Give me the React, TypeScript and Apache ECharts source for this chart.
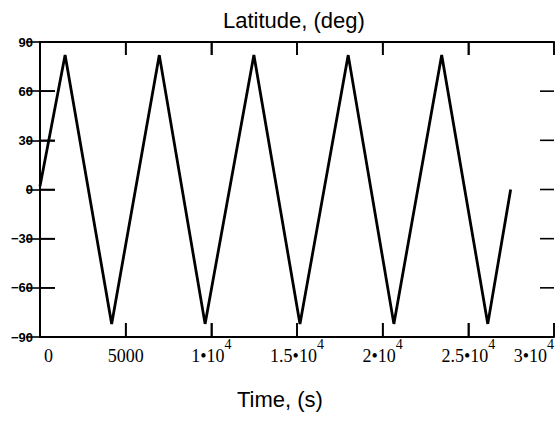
import React, { useEffect, useRef } from "react";
import * as echarts from "echarts";

const titleText = "Latitude, (deg)";
const xName = "Time, (s)";

const xTicks = [0, 5000, 10000, 15000, 20000, 25000, 30000];
const xTickLabels = ["0", "5000", "1•10^4", "1.5•10^4", "2•10^4", "2.5•10^4", "3•10^4"];
const yTicks = [-90, -60, -30, 0, 30, 60, 90];
const yTickLabels = ["−90", "−60", "−30", "0", "30", "60", "90"];

// turning points of the latitude trace (time s, latitude deg)
const timeS = [0, 1465, 4183, 6963, 9635, 12484, 15173, 17988, 20654, 23445, 26135, 27470];
const latDeg = [2, 82, -82, 82, -82, 82, -82, 82, -82, 82, -82, 0];

// tick mark styling per side: bottom, top, left, right
const TICK_DIR = [[0, -1], [0, 1], [1, 0], [-1, 0]];
const TICK_LEN = [14, 13, 15, 14];

export default function App() {
  const ref = useRef<HTMLDivElement>(null);
  useEffect(() => {
    if (!ref.current) return;
    const chart = echarts.init(ref.current, undefined, { renderer: "svg" });
    const data = timeS.map((t, i) => [t, latDeg[i]]);
    const xMin = xTicks[0];
    const xMax = xTicks[xTicks.length - 1];
    const yMin = yTicks[0];
    const yMax = yTicks[yTicks.length - 1];
    const tickData: number[][] = [];
    xTicks.forEach((v) => {
      tickData.push([v, yMin, 0]);
      tickData.push([v, yMax, 1]);
    });
    yTicks.forEach((v) => {
      tickData.push([xMin, v, 2]);
      tickData.push([xMax, v, 3]);
    });
    chart.setOption({
      animation: false,
      title: [
        {
          text: titleText,
          left: 223,
          top: 9,
          padding: 0,
          textStyle: { fontFamily: "Liberation Sans", fontSize: 22, fontWeight: "normal", color: "#000" },
        },
        {
          text: xName,
          left: 237,
          top: 388,
          padding: 0,
          textStyle: { fontFamily: "Liberation Sans", fontSize: 22, fontWeight: "normal", color: "#000" },
        },
      ],
      grid: { left: 40, top: 42, width: 520, height: 295 },
      xAxis: [
        {
          type: "value",
          min: xMin,
          max: xMax,
          interval: 5000,
          position: "bottom",
          axisLine: { show: true, onZero: false, lineStyle: { color: "#000", width: 2 } },
          axisTick: { show: true, inside: true, length: 14, lineStyle: { color: "#000", width: 1.6 } },
          splitLine: { show: false },
          axisLabel: {
            show: true,
            margin: 0,
            alignMinLabel: "left",
            alignMaxLabel: "right",
            formatter: (v: number) => {
              const i = xTicks.indexOf(v);
              const s = i >= 0 ? xTickLabels[i] : "";
              const parts = s.split("^");
              if (i === 0) return `{z|${s}}`;
              return parts.length > 1 ? `{b|${parts[0]}}{s|${parts[1]}}` : `{b|${s}}`;
            },
            rich: {
              b: { fontFamily: "Liberation Serif", fontSize: 18, color: "#000", lineHeight: 28, verticalAlign: "bottom" },
              z: { fontFamily: "Liberation Serif", fontSize: 18, color: "#000", lineHeight: 28, verticalAlign: "bottom", padding: [0, 0, 0, 4] },
              s: { fontFamily: "Liberation Serif", fontSize: 14, color: "#000", lineHeight: 14, verticalAlign: "top" },
            },
          },
        },
        {
          type: "value",
          min: xMin,
          max: xMax,
          interval: 5000,
          position: "top",
          axisLine: { show: true, onZero: false, lineStyle: { color: "#000", width: 2 } },
          axisTick: { show: true, inside: true, length: 13, lineStyle: { color: "#000", width: 1.6 } },
          splitLine: { show: false },
          axisLabel: { show: false },
        },
      ],
      yAxis: [
        {
          type: "value",
          min: yMin,
          max: yMax,
          interval: 30,
          position: "left",
          axisLine: { show: true, onZero: false, lineStyle: { color: "#000", width: 2 } },
          axisTick: { show: true, inside: true, length: 15, lineStyle: { color: "#000", width: 1.6 } },
          splitLine: { show: false },
          axisLabel: {
            margin: 7,
            fontFamily: "Liberation Sans",
            fontSize: 13,
            fontWeight: "bold",
            color: "#000",
            formatter: (v: number) => {
              const i = yTicks.indexOf(v);
              return i >= 0 ? yTickLabels[i] : "";
            },
          },
        },
        {
          type: "value",
          min: yMin,
          max: yMax,
          interval: 30,
          position: "right",
          axisLine: { show: true, lineStyle: { color: "#000", width: 2 } },
          axisTick: { show: true, inside: true, length: 14, lineStyle: { color: "#000", width: 1.6 } },
          splitLine: { show: false },
          axisLabel: { show: false },
        },
      ],
      series: [
        {
          type: "line",
          data,
          xAxisIndex: 0,
          yAxisIndex: 0,
          showSymbol: false,
          symbol: "none",
          lineStyle: { color: "#000", width: 2.8 },
        },
        {
          type: "custom",
          xAxisIndex: 0,
          yAxisIndex: 0,
          data: tickData,
          encode: { x: 0, y: 1 },
          clip: false,
          silent: true,
          renderItem: (params: any, api: any) => {
            const p = api.coord([api.value(0), api.value(1)]);
            const side = api.value(2);
            const d = TICK_DIR[side];
            const len = TICK_LEN[side];
            return {
              type: "line",
              shape: { x1: p[0], y1: p[1], x2: p[0] + d[0] * len, y2: p[1] + d[1] * len },
              style: { stroke: "#000", lineWidth: 1.6 },
            };
          },
        },
      ],
    });
    return () => chart.dispose();
  }, []);
  return (
    <div
      ref={ref}
      style={{ position: "fixed", left: 0, top: 0, width: 557, height: 422, background: "#fff" }}
    />
  );
}
